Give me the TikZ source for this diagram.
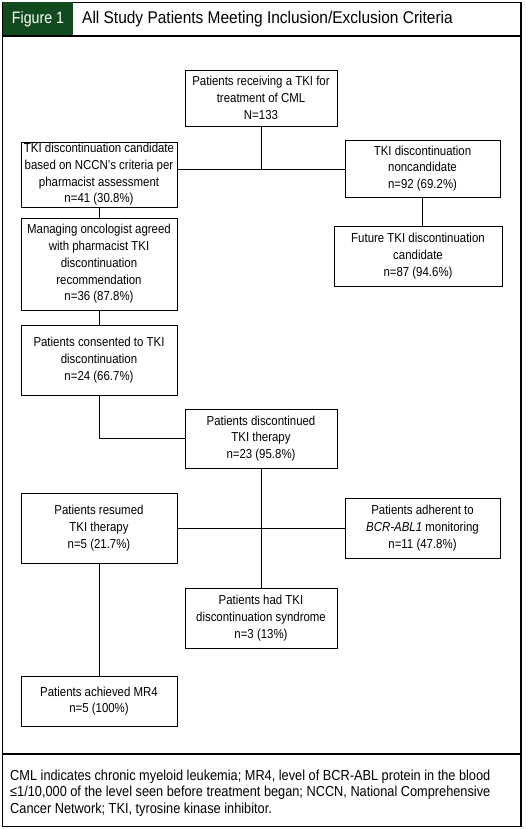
\documentclass[tikz,border=0pt]{standalone}
\usepackage{fontspec}
\setmainfont[FakeStretch=0.88]{Liberation Sans}
\newfontfamily\titlefont[FakeStretch=0.91]{Liberation Sans}
\newfontfamily\figfont[FakeStretch=0.86]{Liberation Sans}
\newfontfamily\footfont[FakeStretch=0.88]{Liberation Sans}
\definecolor{hdrgreen}{RGB}{18,74,32}
\tikzset{
  box/.style={draw=black, line width=0.8pt, inner sep=0pt, align=center,
    font=\fontsize{13}{16.7}\selectfont},
  conn/.style={draw=black, line width=0.8pt},
}
\begin{document}
\begin{tikzpicture}[x=1pt,y=-1pt]
\useasboundingbox (0,0) rectangle (525,829);
% frame
\draw[line width=1.2pt] (2.5,2.5) rectangle (521,826.5);
\fill[hdrgreen] (2.5,2.5) rectangle (73,36);
\draw[line width=1.2pt] (2.5,36) -- (521,36);
\draw[line width=1.2pt] (2.5,754) -- (521,754);
\node[anchor=center, text=white, font=\figfont\fontsize{16.5}{18}\selectfont, inner sep=0pt] (fig) at (38,19.5) {Figure 1};
\node[anchor=west, font=\titlefont\fontsize{17}{18}\selectfont, inner sep=0pt] (title) at (82,19.5) {All Study Patients Meeting Inclusion/Exclusion Criteria};
% boxes
\node[box, minimum width=152pt, minimum height=56pt] (top) at (261,98) {Patients receiving a TKI for\\treatment of CML\\N=133};
\node[box, minimum width=156pt, minimum height=65pt] (l1) at (99,174.5) {TKI discontinuation candidate\\based on NCCN's criteria per\\pharmacist assessment\\n=41 (30.8\%)};
\node[box, minimum width=155pt, minimum height=57pt] (r1) at (422.5,168.5) {TKI discontinuation\\noncandidate\\n=92 (69.2\%)};
\node[box, minimum width=156pt, minimum height=92pt] (l2) at (99,264) {Managing oncologist agreed\\with pharmacist TKI\\discontinuation\\recommendation\\n=36 (87.8\%)};
\node[box, minimum width=168pt, minimum height=60pt] (r2) at (418,256) {Future TKI discontinuation\\candidate\\n=87 (94.6\%)};
\node[box, minimum width=156pt, minimum height=70pt] (l3) at (99,360) {Patients consented to TKI\\discontinuation\\n=24 (66.7\%)};
\node[box, minimum width=152pt, minimum height=59pt] (dis) at (261,438.5) {Patients discontinued\\TKI therapy\\n=23 (95.8\%)};
\node[box, minimum width=156pt, minimum height=70pt] (res) at (99,528) {Patients resumed\\TKI therapy\\n=5 (21.7\%)};
\node[box, minimum width=155pt, minimum height=60pt] (adh) at (422.5,528) {Patients adherent to\\\textit{BCR-ABL1} monitoring\\n=11 (47.8\%)};
\node[box, minimum width=152pt, minimum height=60pt] (syn) at (261,618) {Patients had TKI\\discontinuation syndrome\\n=3 (13\%)};
\node[box, minimum width=156pt, minimum height=50pt] (mr4) at (99,701) {Patients achieved MR4\\n=5 (100\%)};
% connectors
\coordinate (j1) at (261,169);
\draw[conn] (top.south) -- (j1);
\draw[conn] (l1.east |- j1) -- (r1.west |- j1);
\draw[conn] (l1.south) -- (l2.north);
\draw[conn] (r1.south) -- (r1.south |- r2.north);
\draw[conn] (l2.south) -- (l3.north);
\draw[conn] (l3.south) -- (l3.south |- dis.west) -- (dis.west);
\draw[conn] (dis.south) -- (syn.north);
\draw[conn] (res.east) -- (adh.west);
\draw[conn] (res.south) -- (mr4.north);
% footer
\node[anchor=base west, align=left, inner sep=0pt, font=\footfont\fontsize{14.5}{16.7}\selectfont] (foot) at (10,813.5) {CML indicates chronic myeloid leukemia; MR4, level of BCR-ABL protein in the blood\\≤1/10,000 of the level seen before treatment began; NCCN, National Comprehensive\\Cancer Network; TKI, tyrosine kinase inhibitor.};
\end{tikzpicture}
\end{document}
